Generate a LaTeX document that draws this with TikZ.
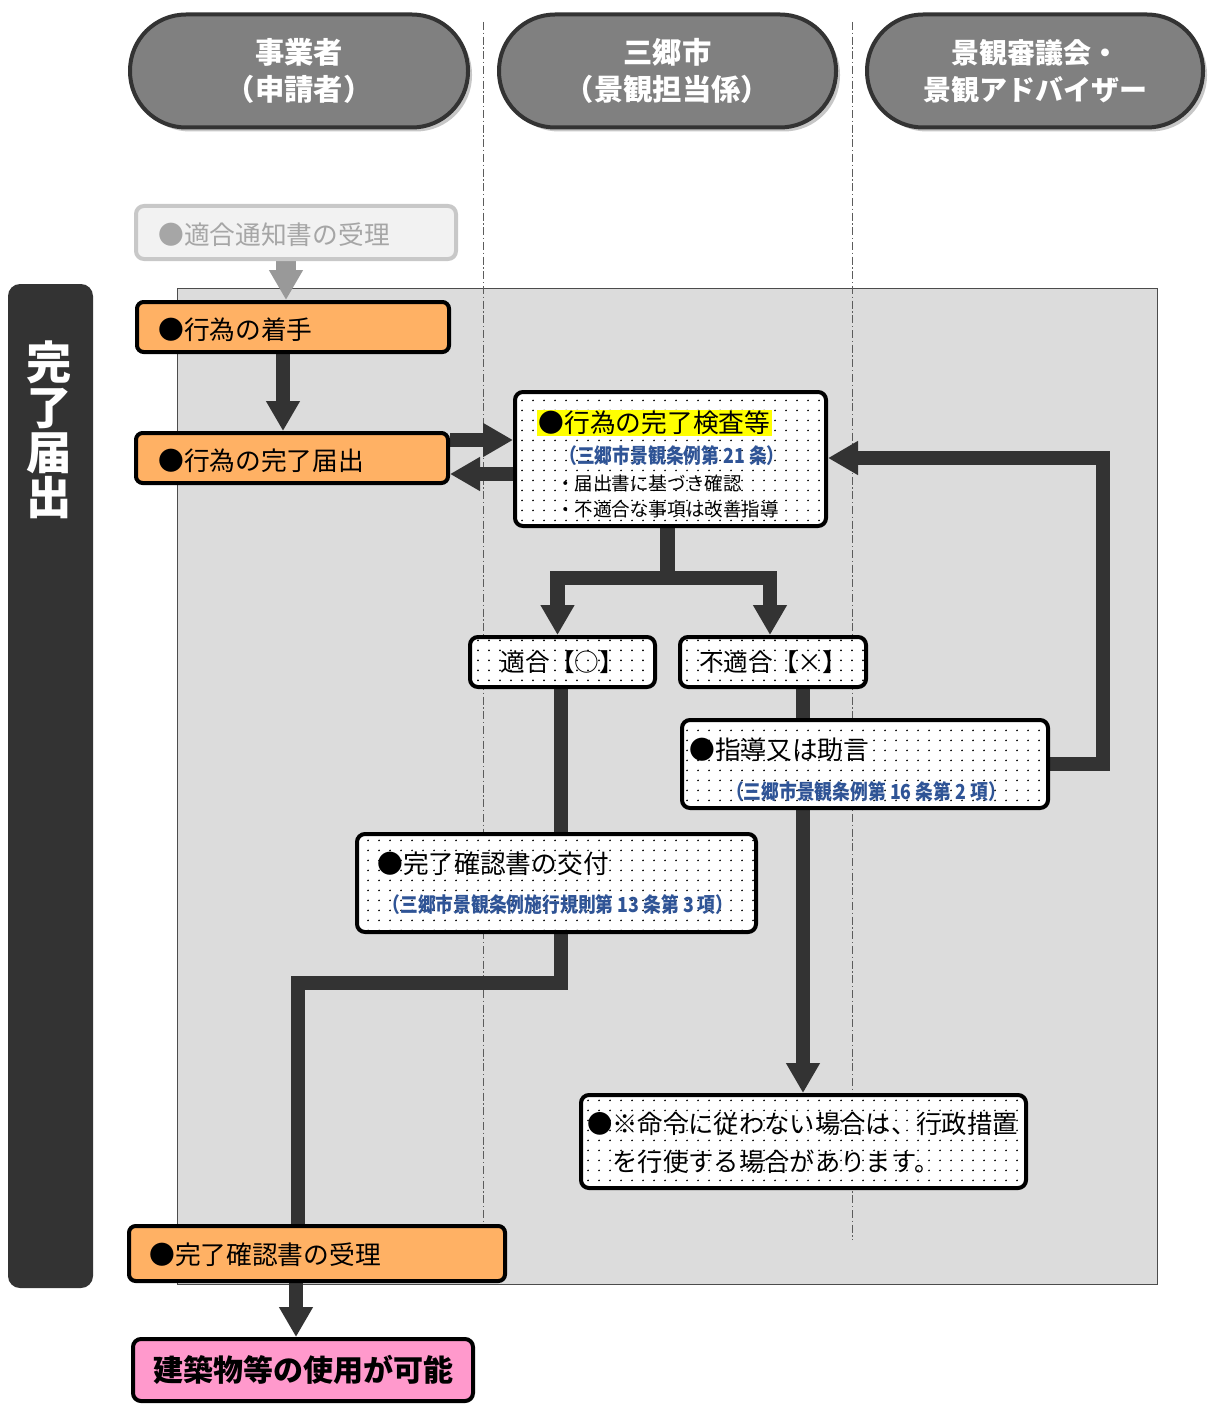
\documentclass[tikz,border=0pt]{standalone}
\usepackage{fontspec}
\setmainfont{Noto Sans CJK JP}
\newfontfamily\condfont{Noto Sans CJK JP}[FakeStretch=0.86]
\usetikzlibrary{arrows.meta,patterns.meta,shadows,calc}
\newdimen\pxu \pxu=0.75pt
\definecolor{dk}{HTML}{333333}
\definecolor{hdrgray}{HTML}{808080}
\definecolor{orng}{HTML}{FFB164}
\definecolor{pnk}{HTML}{FF99CC}
\definecolor{bgray}{HTML}{DCDCDC}
\definecolor{blu}{HTML}{2F5496}
\definecolor{hl}{HTML}{FFFF00}
\definecolor{ngray}{HTML}{F2F2F2}
\definecolor{nbord}{HTML}{C8C8C8}
\definecolor{ntext}{HTML}{A6A6A6}
\definecolor{garrow}{HTML}{999999}
\pgfdeclarelayer{back}\pgfdeclarelayer{mid}\pgfsetlayers{back,mid,main}
\pgfdeclarepattern{name=sdots, type=uncolored,
  bottom left={\pgfpoint{0pt}{0pt}}, top right={\pgfpoint{8.25pt}{7.5pt}},
  tile size={\pgfpoint{8.25pt}{7.5pt}},
  code={\pgfpathcircle{\pgfpoint{4.1pt}{3.75pt}}{0.75pt}\pgfusepath{fill}}}
\tikzset{
  hdr/.style={draw=dk, line width=3pt, fill=hdrgray, rounded corners=42pt,
    minimum height=113\pxu, inner sep=0pt, align=center, text=white,
    font=\bfseries\fontsize{22}{28}\selectfont,
    drop shadow={shadow xshift=3pt, shadow yshift=-3pt, fill=black!22, opacity=1}},
  obox/.style={draw=black, line width=3pt, fill=orng, rounded corners=5pt, inner sep=0pt},
  dbox/.style={draw=black, line width=3pt, preaction={fill=white}, pattern=sdots,
    pattern color=black, rounded corners=6pt, inner sep=0pt},
  lbl/.style={anchor=west, inner sep=0pt, font=\fontsize{19.3}{23}\selectfont},
  blutxt/.style={inner sep=0pt, text=blu, font=\condfont\bfseries\fontsize{15.5}{17}\selectfont},
  smalltxt/.style={anchor=west, inner sep=0pt, font=\fontsize{13.9}{16}\selectfont},
  conn/.style={draw=dk, line width=11pt},
  tipd/.style={-{Triangle[width=24pt,length=22.5pt]}},
  dashdot/.style={draw=dk!80, line width=0.75pt, dash pattern=on 6pt off 2pt on 1pt off 2pt}
}
\begin{document}
\begin{tikzpicture}[x=0.75pt,y=-0.75pt]
\useasboundingbox (0,0) rectangle (1208,1405);

% background area and lane separators
\begin{pgfonlayer}{back}
\node[draw=black!70, line width=0.75pt, fill=bgray, minimum width=980\pxu,
  minimum height=996\pxu, inner sep=0pt] (area) at (667,786) {};
\draw[dashdot] (483,22) -- (483,1224);
\draw[dashdot] (852,22) -- (852,1240);
\end{pgfonlayer}

% side bar
\node[fill=dk, rounded corners=9pt, minimum width=85\pxu, minimum height=1004\pxu,
  inner sep=0pt] (side) at (50.5,786) {};
\node[text=white, inner sep=0pt, align=center,
  font=\bfseries\fontsize{34}{33.75}\selectfont] (sidet) at (49,430) {完\\了\\届\\出};

% headers
\node[hdr, minimum width=338\pxu] (h1) at (299,71) {事業者\\（申請者）};
\node[hdr, minimum width=337\pxu] (h2) at (667.5,71) {三郷市\\（景観担当係）};
\node[hdr, minimum width=336\pxu, font=\bfseries\fontsize{21}{28}\selectfont] (h3) at (1035,71) {景観審議会・\\景観アドバイザー};

% notice box
\node[draw=nbord, line width=3pt, fill=ngray, rounded corners=6pt, inner sep=0pt,
  minimum width=320\pxu, minimum height=53\pxu] (notice) at (296,232.5) {};
\node[lbl, text=ntext] (noticet) at (158,235) {●適合通知書の受理};

% orange boxes
\node[obox, minimum width=312\pxu, minimum height=50\pxu] (start) at (293,327) {};
\node[lbl] (startt) at (158,330) {●行為の着手};
\node[obox, minimum width=312\pxu, minimum height=50\pxu] (todoke) at (292,458) {};
\node[lbl] (todoket) at (158,461) {●行為の完了届出};

% inspection box
\node[dbox, minimum width=311\pxu, minimum height=134\pxu] (insp) at (670.5,459) {};
\node[lbl, fill=hl, inner sep=1pt] (inspt) at (537,423) {●行為の完了検査等};
\node[blutxt] (inspb) at (672,456) {（三郷市景観条例第 21 条）};
\node[smalltxt] (insp1) at (556,483) {・届出書に基づき確認};
\node[smalltxt] (insp2) at (556,509) {・不適合な事項は改善指導};

% ok / ng
\node[dbox, minimum width=185\pxu, minimum height=50\pxu,
  font=\fontsize{18.5}{20}\selectfont] (ok) at (562.5,662) {適合【○】};
\node[dbox, minimum width=186\pxu, minimum height=50\pxu,
  font=\fontsize{18.5}{20}\selectfont] (ng) at (773,662) {不適合【×】};

% guidance
\node[dbox, minimum width=366\pxu, minimum height=88\pxu] (shido) at (865,764) {};
\node[lbl] (shidot) at (689,750) {●指導又は助言};
\node[blutxt] (shidob) at (866,792) {（三郷市景観条例第 16 条第 2 項）};

% completion certificate issue
\node[dbox, minimum width=399\pxu, minimum height=98\pxu] (kofu) at (556.5,883) {};
\node[lbl] (kofut) at (377,864) {●完了確認書の交付};
\node[blutxt] (kofub) at (558,905) {（三郷市景観条例施行規則第 13 条第 3 項）};

% command
\node[dbox, minimum width=445\pxu, minimum height=93\pxu] (cmd) at (803.5,1141.5) {};
\node[lbl, align=left, font=\fontsize{19}{28.5}\selectfont] (cmdt) at (587,1143)
  {●※命令に従わない場合は、行政措置\\　を行使する場合があります。};

% receipt
\node[obox, minimum width=376\pxu, minimum height=55\pxu] (juri) at (317,1253.5) {};
\node[lbl] (jurit) at (149,1255) {●完了確認書の受理};

% final
\node[draw=black, line width=3pt, fill=pnk, rounded corners=6pt, inner sep=0pt,
  minimum width=340\pxu, minimum height=62\pxu,
  font=\bfseries\fontsize{22.5}{26}\selectfont] (pink) at (303,1370) {建築物等の使用が可能};

% connector anchor points
\coordinate (okb) at ($(ok.south)+(-1.5,0)$);
\coordinate (ngb) at ($(ng.south)+(30,0)$);
\coordinate (shb) at ($(shido.south)+(-62,0)$);

% connectors
\begin{pgfonlayer}{mid}
\draw[draw=garrow, line width=15pt, -{Triangle[width=24pt,length=22.5pt]}]
  ($(notice.south)+(-10,0)$) -- ($(start.north)+(-7,0)$);
\draw[conn,tipd] ($(start.south)+(-10,0)$) -- ($(todoke.north)+(-9,0)$);
\draw[conn,tipd] ($(todoke.east)+(0,-18)$) -- ($(insp.west)+(0,-19)$);
\draw[conn,tipd] ($(insp.west)+(0,15)$) -- ($(todoke.east)+(0,16)$);
\draw[conn,tipd] ($(insp.south)+(-3,0)$) -- ++(0,50) -| ($(ok.north)+(-5,0)$);
\draw[conn,tipd] ($(insp.south)+(-3,0)$) -- ++(0,50) -| ($(ng.north)+(-3,0)$);
\draw[conn] (okb) -- (okb |- kofu.north);
\draw[conn] (ngb) -- (ngb |- shido.north);
\draw[conn,tipd] (shido.east) -- ++(53,0) |- ($(insp.east)+(0,-1)$);
\draw[conn,tipd] (shb) -- (shb |- cmd.north);
\draw[conn] ($(kofu.south)+(4.5,0)$) -- ++(0,49) -| ($(juri.north)+(-19,0)$);
\draw[conn,tipd] ($(juri.south)+(-21,0)$) -- ($(pink.north)+(-7,0)$);
\end{pgfonlayer}
\end{tikzpicture}
\end{document}
